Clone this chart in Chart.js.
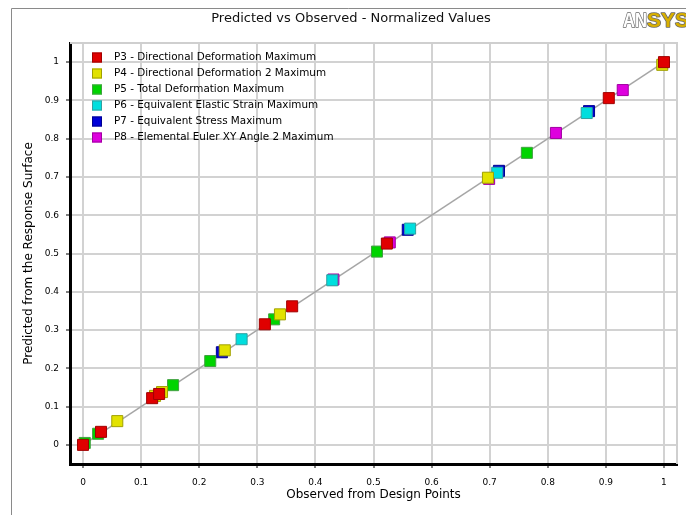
<!DOCTYPE html>
<html><head><meta charset="utf-8">
<script src="https://cdn.jsdelivr.net/npm/chart.js@4.4.1/dist/chart.umd.min.js"></script>
<style>html,body{margin:0;padding:0;background:#fff;}#wrap{width:686px;height:515px;position:relative;}</style>
</head><body><div id="wrap"><canvas id="c" width="686" height="515"></canvas></div>
<script>
const chartTitle = 'Predicted vs Observed - Normalized Values';
const xTitle = 'Observed from Design Points';
const yTitle = 'Predicted from the Response Surface';
const seriesNames = [
  'P3 - Directional Deformation Maximum',
  'P4 - Directional Deformation 2 Maximum',
  'P5 - Total Deformation Maximum',
  'P6 - Equivalent Elastic Strain Maximum',
  'P7 - Equivalent Stress Maximum',
  'P8 - Elemental Euler XY Angle 2 Maximum'
];
const p3Observed  = [0, 0.031, 0.119, 0.131, 0.313, 0.360, 0.523, 0.905, 1.000];
const p3Predicted = [0, 0.034, 0.122, 0.133, 0.315, 0.362, 0.526, 0.906, 1.000];
const p4Observed  = [0.059, 0.124, 0.136, 0.244, 0.339, 0.697, 0.997];
const p4Predicted = [0.062, 0.128, 0.138, 0.247, 0.341, 0.698, 0.993];
const p5Observed  = [0.003, 0.026, 0.155, 0.219, 0.329, 0.506, 0.764];
const p5Predicted = [0.005, 0.029, 0.156, 0.219, 0.328, 0.505, 0.763];
const p6Observed  = [0.273, 0.429, 0.563, 0.713, 0.867];
const p6Predicted = [0.276, 0.430, 0.565, 0.711, 0.867];
const p7Observed  = [0.239, 0.559, 0.716, 0.871];
const p7Predicted = [0.242, 0.562, 0.716, 0.872];
const p8Observed  = [0.431, 0.528, 0.699, 0.814, 0.929];
const p8Predicted = [0.432, 0.529, 0.695, 0.815, 0.927];
const diagonalX = [0, 1];
const diagonalY = [0, 1];
const tickValues = [0, 0.1, 0.2, 0.3, 0.4, 0.5, 0.6, 0.7, 0.8, 0.9, 1];
const tickLabels = ['0','0.1','0.2','0.3','0.4','0.5','0.6','0.7','0.8','0.9','1'];

const fillColors   = ['#e00000', '#e2e200', '#00d400', '#00dede', '#0000d8', '#de00de'];
const borderColors = ['#a00000', '#a0a000', '#40a040', '#30a0a0', '#000090', '#a000a0'];

const observedAll = [p3Observed, p4Observed, p5Observed, p6Observed, p7Observed, p8Observed];
const predictedAll = [p3Predicted, p4Predicted, p5Predicted, p6Predicted, p7Predicted, p8Predicted];

const datasets = seriesNames.map((name, i) => ({
  label: name,
  data: observedAll[i].map((x, j) => ({x: x, y: predictedAll[i][j]})),
  pointStyle: 'rect',
  pointRadius: 7.8,
  backgroundColor: fillColors[i],
  borderColor: borderColors[i],
  borderWidth: 1,
  showLine: false
}));
datasets.push({
  label: 'diagonal',
  data: diagonalX.map((x, j) => ({x: x, y: diagonalY[j]})),
  showLine: true,
  borderColor: '#a6a6a6',
  borderWidth: 1.5,
  pointRadius: 0
});

const FONT = 'DejaVu Sans';

const decor = {
  id: 'decor',
  beforeDraw(chart) {
    const c = chart.ctx;
    c.save();
    c.fillStyle = '#fff';
    c.fillRect(0, 0, chart.width, chart.height);
    c.strokeStyle = '#8a8a8a';
    c.lineWidth = 1;
    c.beginPath();
    c.moveTo(11.5, 515);
    c.lineTo(11.5, 8.5);
    c.lineTo(686, 8.5);
    c.stroke();
    c.restore();
  },
  beforeDatasetsDraw(chart) {
    const a = chart.chartArea;
    const c = chart.ctx;
    c.save();
    c.strokeStyle = '#cfcfcf';
    c.lineWidth = 2;
    c.beginPath();
    c.moveTo(a.left, a.top);
    c.lineTo(a.right, a.top);
    c.lineTo(a.right, a.bottom);
    c.stroke();
    c.restore();
  },
  afterDraw(chart) {
    const c = chart.ctx;
    c.save();
    c.fillStyle = '#111';
    c.font = '13px "' + FONT + '"';
    c.textAlign = 'center';
    c.textBaseline = 'middle';
    c.fillText(chartTitle, 351, 19);
    c.font = '10.4px "' + FONT + '"';
    c.textAlign = 'left';
    seriesNames.forEach((name, i) => {
      const y = 52.5 + 16 * i;
      c.fillStyle = fillColors[i];
      c.fillRect(92, y, 10, 10);
      c.strokeStyle = borderColors[i];
      c.lineWidth = 1;
      c.strokeRect(92.5, y + 0.5, 9, 9);
      c.fillStyle = '#000';
      c.fillText(name, 114, y + 5);
    });
    c.font = 'bold 21px "Liberation Sans"';
    c.textBaseline = 'alphabetic';
    c.lineWidth = 1.6;
    c.lineJoin = 'round';
    c.strokeStyle = '#6a6a6a';
    c.fillStyle = '#ffffff';
    c.strokeText('AN', 623, 27, 24);
    c.fillText('AN', 623, 27, 24);
    c.fillStyle = '#d9b000';
    c.strokeText('SYS', 647, 27, 42);
    c.fillText('SYS', 647, 27, 42);
    c.restore();
  }
};

function axisCommon(titleText, fit) {
  return {
    type: 'linear',
    afterBuildTicks: s => { s.ticks = tickValues.map(v => ({value: v})); },
    afterFit: fit,
    grid: {color: '#d2d2d2', lineWidth: 2, tickLength: 4, tickColor: '#000', tickWidth: 1},
    border: {color: '#000', width: 3},
    ticks: {
      callback: (v, i) => tickLabels[i],
      font: {family: FONT, size: 9},
      color: '#000',
      maxRotation: 0,
      autoSkip: false,
      padding: 7
    },
    title: {display: true, text: titleText, font: {family: FONT, size: 12}, color: '#000'}
  };
}

const xAxis = axisCommon(xTitle, s => { s.height = 51; });
xAxis.min = -0.0224; xAxis.max = 1.0224;
xAxis.ticks.padding = 9;
xAxis.title.padding = {top: 0, bottom: 13};
const yAxis = axisCommon(yTitle, s => { s.width = 70; });
yAxis.min = -0.05; yAxis.max = 1.05;
yAxis.title.padding = {top: 22, bottom: 0};

new Chart(document.getElementById('c').getContext('2d'), {
  type: 'scatter',
  data: {datasets: datasets},
  options: {
    responsive: false,
    animation: false,
    layout: {padding: {left: 0, top: 43, right: 9, bottom: 0}},
    plugins: {legend: {display: false}, tooltip: {enabled: false}, title: {display: false}},
    scales: {x: xAxis, y: yAxis}
  },
  plugins: [decor]
});
</script>
</body></html>
